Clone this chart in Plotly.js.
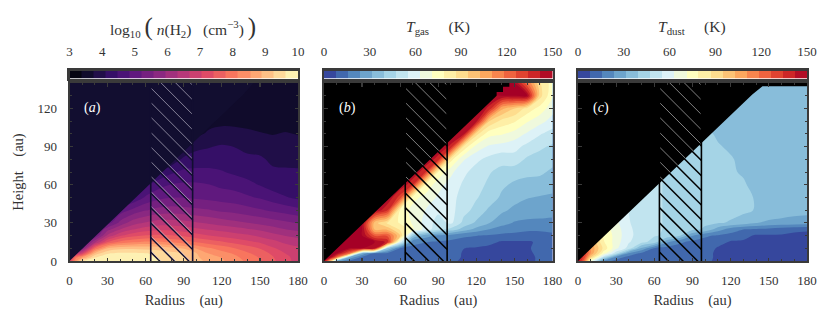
<!DOCTYPE html>
<html>
<head>
<meta charset="utf-8">
<script src="https://cdn.plot.ly/plotly-3.0.1.min.js"></script>
<style>html,body{margin:0;padding:0;background:#fff}#chart{width:831px;height:321px}</style>
</head>
<body>
<div id="chart"></div>
<script>
var radius = [0,5,10,20,30,40,50,60,70,80,90,100,110,120,130,140,150,160,170,180];
var height = [0,3,6,10,15,20,25,30,40,50,60,70,80,90,100,110,120,130,140];

// log10 n(H2)
var zDensity = [
[7.0,8.5,9.6,9.9,9.9,9.85,9.8,9.75,9.65,9.5,9.35,9.0,8.8,8.6,8.3,8.1,7.8,7.5,7.2,6.9],
[6.5,8.0,8.5,9.6,9.8,9.8,9.75,9.7,9.6,9.45,9.3,8.95,8.7,8.5,8.25,8.0,7.75,7.45,7.15,6.9],
[6.0,6.5,7.0,9.0,9.6,9.7,9.7,9.65,9.55,9.4,9.25,8.9,8.5,8.3,8.1,7.85,7.6,7.35,7.05,6.85],
[5.0,5.2,5.5,7.8,8.9,9.15,9.2,9.15,9.1,9.0,8.85,8.5,8.2,8.0,7.8,7.6,7.4,7.1,6.9,6.75],
[4.5,4.8,5.0,6.2,7.4,7.9,8.1,8.2,8.2,8.1,7.95,7.75,7.6,7.45,7.3,7.15,7.0,6.8,6.6,6.5],
[4.0,4.4,4.8,5.2,6.4,7.0,7.3,7.45,7.5,7.45,7.35,7.2,7.05,6.95,6.85,6.75,6.6,6.45,6.3,6.2],
[3.8,4.2,4.5,5.0,5.8,6.3,6.65,6.85,6.95,6.95,6.85,6.75,6.65,6.55,6.45,6.35,6.25,6.1,5.95,5.85],
[3.6,3.9,4.2,4.6,5.0,5.7,6.15,6.35,6.5,6.5,6.45,6.35,6.25,6.15,6.05,5.95,5.85,5.75,5.65,5.55],
[3.55,3.6,3.7,4.0,4.5,5.0,5.3,5.55,5.7,5.75,5.7,5.65,5.6,5.5,5.45,5.35,5.25,5.15,5.05,4.95],
[3.55,3.55,3.6,3.7,4.0,4.3,4.5,4.9,5.1,5.2,5.2,5.15,5.1,5.05,5.0,4.9,4.8,4.65,4.5,4.4],
[3.55,3.55,3.55,3.6,3.7,3.9,4.1,4.4,4.7,4.85,4.9,4.9,4.85,4.75,4.7,4.6,4.45,4.3,4.25,4.25],
[3.55,3.55,3.55,3.55,3.6,3.7,3.8,3.95,4.1,4.4,4.55,4.55,4.55,4.5,4.4,4.3,4.2,4.15,4.15,4.15],
[3.55,3.55,3.55,3.55,3.55,3.6,3.65,3.7,3.75,3.8,4.2,4.3,4.3,4.28,4.2,4.15,4.15,4.05,4.02,4.0],
[3.55,3.55,3.55,3.55,3.55,3.55,3.6,3.6,3.65,3.7,3.7,4.0,4.08,4.15,4.1,4.05,4.0,3.9,3.9,3.88],
[3.55,3.55,3.55,3.55,3.55,3.55,3.55,3.55,3.6,3.6,3.62,3.65,3.8,3.85,3.85,3.8,3.76,3.72,3.76,3.72],
[3.55,3.55,3.55,3.55,3.55,3.55,3.55,3.55,3.55,3.55,3.55,3.6,3.62,3.66,3.65,3.64,3.6,3.6,3.6,3.6],
[3.55,3.55,3.55,3.55,3.55,3.55,3.55,3.55,3.55,3.55,3.55,3.55,3.55,3.55,3.55,3.55,3.55,3.55,3.55,3.55],
[3.55,3.55,3.55,3.55,3.55,3.55,3.55,3.55,3.55,3.55,3.55,3.55,3.55,3.55,3.55,3.55,3.55,3.55,3.55,3.55],
[3.55,3.55,3.55,3.55,3.55,3.55,3.55,3.55,3.55,3.55,3.55,3.55,3.55,3.55,3.55,3.55,3.55,3.55,3.55,3.55]
];

// T gas (K)
var zGas = [
[150,100,30,14,13,13,12,12,12,12,12,10,6,6,6,6,6,6,9,9],
[150,150,120,30,14,13,13,12,12,12,12,11,7,6,6,6,6,6,9,9],
[150,150,150,120,30,15,14,13,13,13,12,12,7,6,6,6,6,6,10,10],
[150,150,150,150,150,145,40,15,14,14,13,13,8,7,6,6,6,7,10,9],
[150,150,150,150,150,150,140,60,18,16,15,14,13,12,10,7,7,7,9,10],
[150,150,150,150,150,125,125,95,40,28,22,20,17,16,15,14,14,13,13,14],
[150,150,150,150,150,100,100,85,72,60,50,45,36,29,24,20,18,17,17,18],
[150,150,150,150,150,98,85,78,70,60,52,57,45,38,32,27,23,22,22,22],
[150,150,150,150,150,150,135,78,68,63,57,58,50,45,38,33,30,28,27,26],
[150,150,150,150,150,150,150,130,74,68,62,58,52,48,44,38,34,32,31,30],
[150,150,150,150,150,150,150,150,135,78,66,60,54,50,46,41,38,36,36,35],
[150,150,150,150,150,150,150,150,150,135,78,65,57,52,48,45,43,42,41,38],
[150,150,150,150,150,150,150,150,150,150,138,82,64,57,53,50,52,46,44,42],
[150,150,150,150,150,150,150,150,150,150,150,140,85,68,62,60,58,53,49,46],
[150,150,150,150,150,150,150,150,150,150,150,150,145,90,74,72,68,62,56,52],
[150,150,150,150,150,150,150,150,150,150,150,150,150,145,95,84,80,72,66,60],
[150,150,150,150,150,150,150,150,150,150,150,150,150,150,140,105,95,84,76,66],
[150,150,150,150,150,150,150,150,150,150,150,150,150,150,150,150,150,150,90,72],
[150,150,150,150,150,150,150,150,150,150,150,150,150,150,150,150,150,120,88,75]
];

// T dust (K)
var zDust = [
[150,120,70,20,13,12,12,12,11,11,11,10,6,6,6,6,6,6,6,6],
[150,130,95,50,20,13,12,12,12,11,11,11,6,6,6,6,6,6,6,6],
[150,135,110,75,50,22,14,13,12,12,12,11,6,6,6,6,6,6,6,6],
[150,135,110,85,65,52,30,15,13,13,12,12,7,6,6,6,6,6,6,6],
[150,130,105,80,67,56,50,44,25,17,14,13,11,7,7,6,6,6,6,6],
[140,120,100,78,68,57,52,48,46,40,24,17,15,13,10,7,7,7,6,6],
[130,115,95,76,67,57,51,48,47,44,42,38,28,20,16,15,14,12,10,9],
[120,110,90,74,65,56,50,48,47,45,43,41,40,39,36,32,30,29,28,28],
[110,100,85,70,62,55,50,48,47,45,43,42,41,41,41,39,37,36,35,34],
[105,95,82,68,61,54,50,48,47,46,44,42,41,41,41,39,36,35,35,35],
[100,90,80,66,60,54,50,48,47,46,44,42,41,41,40,38,36,35,35,35],
[95,85,78,64,58,52,49,48,47,46,44,42,41,40,39,37,36,35,35,35],
[90,80,75,62,56,50,48,47,46,45,43,41,40,40,38,36,36,35,35,35],
[85,78,72,60,54,48,47,46,45,44,42,40,40,38.5,37,36,35,35,35,35],
[80,75,70,58,52,47,46,45,44,43,42,41,38.5,37,36,36,35,35,35,35],
[75,72,68,56,50,46,45,44,43,42,41,38,37,36,36,35,35,35,35,35],
[72,70,66,55,48,45,44,43,42,41,40,37,36,36,35,35,35,35,35,35],
[70,68,64,54,47,44,43,42,41,40,38,36,36,35,35,35,35,35,35,35],
[68,66,62,52,46,43,42,41,40,38,37,36,35,35,35,35,35,35,35,35]
];

var magma = [[0,"#000004"],[0.1,"#140e36"],[0.2,"#3b0f70"],[0.3,"#641a80"],[0.4,"#8c2981"],[0.5,"#b73779"],[0.6,"#de4968"],[0.7,"#f7705c"],[0.8,"#fe9f6d"],[0.9,"#fecf92"],[1,"#fcfdbf"]];
var rdYlBu = [[0,"#313695"],[0.1,"#4575b4"],[0.2,"#74add1"],[0.3,"#abd9e9"],[0.4,"#e0f3f8"],[0.5,"#ffffbf"],[0.6,"#fee090"],[0.7,"#fdae61"],[0.8,"#f46d43"],[0.9,"#d73027"],[1,"#a50026"]];

var densityEdges = [3,3.37,3.74,4.11,4.47,4.84,5.21,5.58,5.95,6.32,6.68,7.05,7.42,7.79,8.16,8.53,8.89,9.26,9.63,10];
var tempEdges = [0,7.9,15.8,23.7,31.6,39.5,47.4,55.3,63.2,71.1,78.9,86.8,94.7,102.6,110.5,118.4,126.3,134.2,142.1,150];
var densityTicks = [3,4,5,6,7,8,9,10];
var tempTicks = [0,30,60,90,120,150];
var radiusTicks = [0,30,60,90,120,150,180];
var heightTicks = [0,30,60,90,120];

// region without data, upper left of each panel
var maskDensityX = [0,137,145,180,180,0];
var maskDensityY = [0,131,140,140,140,140];
var maskGasX = [0,136,136,141,141,146,146,0];
var maskGasY = [0,130,133,133,137,137,140,140];
var maskDustX = [0,137,145,180,180,0];
var maskDustY = [0,131,137.5,137.5,140,140];

// hatched gap
var gapEdges = [64,97];
var hatchLeft = [7,18.5,30,42,53.5,65.5,77,88.5,100,112,123.5,135,147,158.5,170];
var hatchDrop = 33;
var wedgeSlope = 0.96;

var panels = [
  { z: zDensity, cs: magma, zmin: 3, zmax: 10, size: 7/19, edges: densityEdges, ticks: densityTicks, maskX: maskDensityX, maskY: maskDensityY, dark: "#120e30", glow: "rgba(215,210,225,0.75)", tag: "a", glowAll: true },
  { z: zGas, cs: rdYlBu, zmin: 0, zmax: 150, size: 150/19, edges: tempEdges, ticks: tempTicks, maskX: maskGasX, maskY: maskGasY, dark: "#000000", glow: "rgba(215,215,215,0.75)", tag: "b", glowAll: false },
  { z: zDust, cs: rdYlBu, zmin: 0, zmax: 150, size: 150/19, edges: tempEdges, ticks: tempTicks, maskX: maskDustX, maskY: maskDustY, dark: "#000000", glow: "rgba(215,215,215,0.75)", tag: "c", glowAll: false }
];

var W = 831, H = 321;
var xSpans = [[69.5,298],[324,552.5],[578,807]];
var ink = "#333333", frame = "#3a3a3a", serif = "'Liberation Serif', serif";
var layout = {
  width: W, height: H, margin: { l: 0, r: 0, t: 0, b: 0 },
  paper_bgcolor: "#fff", plot_bgcolor: "#fff", showlegend: false,
  font: { family: serif, size: 13, color: ink }, annotations: []
};
var traces = [];

panels.forEach(function (p, i) {
  var n = i * 2 + 1, m = i * 2 + 2;
  var plotKey = n === 1 ? "" : n;
  var xa = "x" + plotKey, ya = "y" + plotKey;
  var xb = "x" + m, yb = "y" + m;
  var dom = [xSpans[i][0] / W, xSpans[i][1] / W];

  traces.push({ type: "contour", x: radius, y: height, z: p.z, xaxis: xa, yaxis: ya, colorscale: p.cs, zmin: p.zmin, zmax: p.zmax, autocontour: false, showscale: false, hoverinfo: "skip",
    contours: { coloring: "fill", start: p.zmin, end: p.zmax, size: p.size, showlines: false }, line: { width: 0 } });
  traces.push({ type: "scatter", mode: "lines", x: p.maskX, y: p.maskY, xaxis: xa, yaxis: ya, fill: "toself", fillcolor: p.dark, line: { width: 0, color: p.dark }, hoverinfo: "skip" });

  var hx = [], hy = [], gx = [], gy = [];
  hatchLeft.forEach(function (h) {
    hx.push(gapEdges[0], gapEdges[1], null);
    hy.push(h, h - hatchDrop, null);
    var top = h + 1.2;
    // on the temperature panels the light edge only shows over the black region
    var stop = p.glowAll ? gapEdges[1] : Math.min(gapEdges[1], (top + gapEdges[0]) / (1 + wedgeSlope));
    if (stop > gapEdges[0]) {
      gx.push(gapEdges[0], stop, null);
      gy.push(top, top - (stop - gapEdges[0]), null);
    }
  });
  traces.push({ type: "scatter", mode: "lines", x: hx, y: hy, xaxis: xa, yaxis: ya, line: { width: 1.5, color: p.dark }, hoverinfo: "skip" });
  traces.push({ type: "scatter", mode: "lines", x: gx, y: gy, xaxis: xa, yaxis: ya, line: { width: 0.8, color: p.glow }, hoverinfo: "skip" });
  traces.push({ type: "scatter", mode: "lines", x: [gapEdges[0], gapEdges[0], null, gapEdges[1], gapEdges[1]], y: [0, 140, null, 0, 140], xaxis: xa, yaxis: ya, line: { width: 1.6, color: p.dark }, hoverinfo: "skip" });

  var mids = p.edges.slice(1).map(function (e, k) { return (e + p.edges[k]) / 2; });
  traces.push({ type: "heatmap", x: p.edges, y: [0, 1], z: [mids], xaxis: xb, yaxis: yb, colorscale: p.cs, zmin: p.zmin, zmax: p.zmax, showscale: false, hoverinfo: "skip" });

  layout["xaxis" + plotKey] = {
    domain: dom, range: [0, 180], anchor: ya, tickmode: "array", tickvals: radiusTicks, ticks: "inside", ticklen: 3.5, tickwidth: 1.2, tickcolor: frame,
    minor: { dtick: 10, ticks: "inside", ticklen: 2, tickwidth: 1, tickcolor: frame }, showgrid: false, zeroline: false, showline: true, linecolor: frame, linewidth: 2, mirror: "ticks",
    ticklabelstandoff: 6, tickfont: { size: 13, color: ink }, title: { text: "Radius \u00a0\u00a0\u00a0(au)", font: { size: 14.5, color: ink }, standoff: 8 }
  };
  layout["yaxis" + plotKey] = {
    domain: [1 - 261 / H, 1 - 83 / H], range: [0, 140], anchor: xa, tickmode: "array", tickvals: heightTicks, ticks: "inside", ticklen: 3.5, tickwidth: 1.2, tickcolor: frame,
    minor: { dtick: 10, ticks: "inside", ticklen: 2, tickwidth: 1, tickcolor: frame }, showgrid: false, zeroline: false, showline: true, linecolor: frame, linewidth: 2, mirror: "ticks",
    showticklabels: i === 0, ticklabelstandoff: 8, tickfont: { size: 13, color: ink },
    title: i === 0 ? { text: "Height \u00a0\u00a0\u00a0(au)", font: { size: 14.5, color: ink }, standoff: 10 } : undefined
  };
  layout["xaxis" + m] = {
    domain: dom, range: [p.zmin, p.zmax], anchor: yb, side: "top", tickmode: "array", tickvals: p.ticks, ticks: "outside", ticklen: 7, tickcolor: "rgba(0,0,0,0)",
    showgrid: false, zeroline: false, showline: true, linecolor: frame, linewidth: 2.4, mirror: true, tickfont: { size: 13, color: ink }
  };
  layout["yaxis" + m] = { domain: [1 - 78.5 / H, 1 - 70.5 / H], range: [0, 1], anchor: xb, showticklabels: false, ticks: "", showgrid: false, zeroline: false, showline: true, linecolor: frame, linewidth: 2.4, mirror: true };

  layout.annotations.push({ xref: xa, yref: ya, x: 10, y: 120, xanchor: "left", yanchor: "middle", showarrow: false, text: "(<i>" + p.tag + "</i>)", font: { size: 14, color: "#fff" } });
});

var headings = [
  { x: 183, text: "log<sub>10</sub> <span style=\"font-size:25px\">(</span>\u00a0<i>n</i>(H<sub>2</sub>) \u00a0\u00a0(cm<sup>\u22123</sup>)\u00a0<span style=\"font-size:25px\">)</span>" },
  { x: 438, text: "<i>T</i><sub>gas</sub> \u00a0\u00a0\u00a0\u00a0(K)" },
  { x: 692, text: "<i>T</i><sub>dust</sub> \u00a0\u00a0\u00a0\u00a0(K)" }
];
headings.forEach(function (h) {
  layout.annotations.push({ xref: "paper", yref: "paper", x: h.x / W, y: 1 - 27 / H, xanchor: "center", yanchor: "middle", showarrow: false, text: h.text, font: { size: 15.5, color: ink } });
});

Plotly.newPlot("chart", traces, layout, { displayModeBar: false, staticPlot: true });
</script>
</body>
</html>
